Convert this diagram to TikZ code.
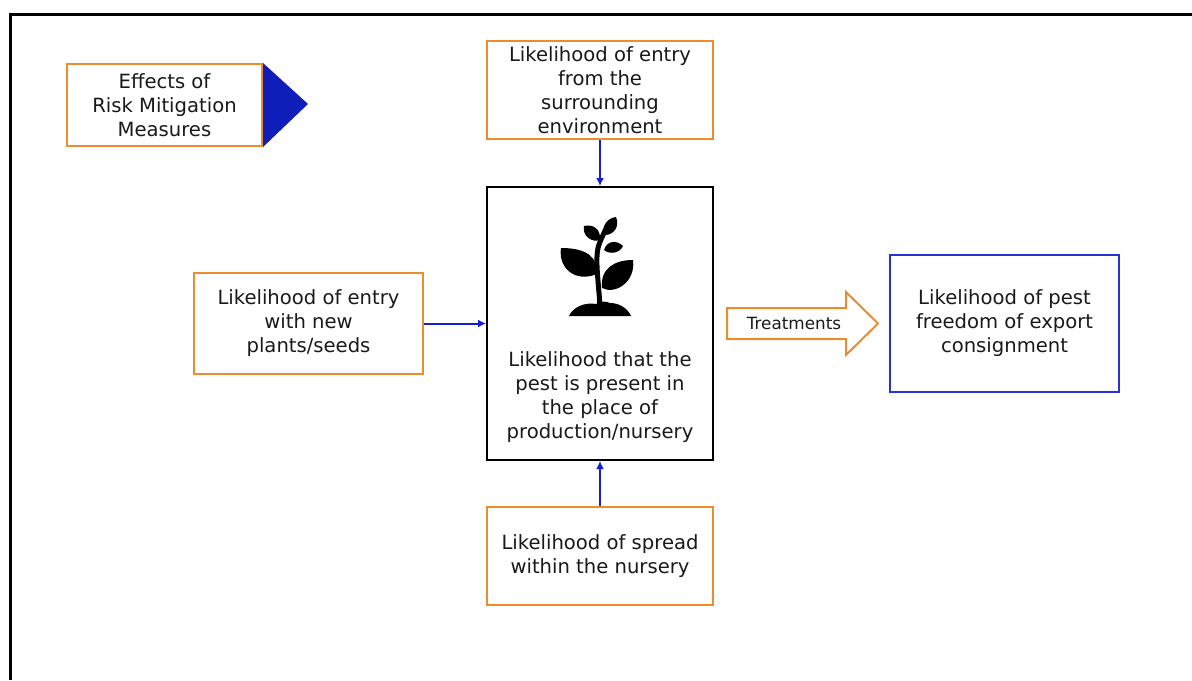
\documentclass[tikz,border=0pt]{standalone}
\usepackage{fontspec}
\setmainfont{DejaVu Sans}
\usetikzlibrary{arrows,arrows.meta,positioning}
\definecolor{boxorange}{RGB}{237,140,45}
\definecolor{boxblue}{RGB}{40,50,210}
\definecolor{markerblue}{RGB}{15,30,185}
\definecolor{linkblue}{RGB}{20,30,210}

\begin{document}
\begin{tikzpicture}
[x=0.5pt,y=-0.5pt,
every node/.style={font=\fontsize{9.8}{12}\selectfont,align=center,text=black!90},
%
orangebox/.style={shape=rectangle,draw=boxorange,line width=1pt,inner sep=0pt},
bluebox/.style={shape=rectangle,draw=boxblue,line width=1pt,inner sep=0pt},
blackbox/.style={shape=rectangle,draw=black,line width=1pt,inner sep=0pt},
leaf/.style={fill=black},
%
link/.style={->,>={Latex[length=4pt,width=4pt]},draw=linkblue,line width=1pt},
treat/.style={draw=boxorange,line width=1pt,line join=miter}]

\useasboundingbox (0,0) rectangle (1192,680);
\draw[line width=1.5pt] (10,680) -- (10,14) -- (1192,14);

\node (legend) [orangebox,minimum width=97.5pt,minimum height=41pt] at (164.5,105) {Effects of\\Risk Mitigation\\Measures};
\fill[markerblue] (legend.north east) -- ++(45,41) -- (legend.south east) -- cycle;

\node (environment) [orangebox,minimum width=113pt,minimum height=49pt] at (600,90) {Likelihood of entry\\from the\\surrounding\\environment};
\node (nursery) [blackbox,minimum width=113pt,minimum height=136.5pt] at (600,323.5) {};
\node (nurserytext) at (600,397) {Likelihood that the\\pest is present in\\the place of\\production/nursery};
\node (plants) [orangebox,minimum width=114.5pt,minimum height=50.5pt] at (308.5,323.5) {Likelihood of entry\\with new\\plants/seeds};
\node (spread) [orangebox,minimum width=113pt,minimum height=49pt] at (600,556) {Likelihood of spread\\within the nursery};
\node (export) [bluebox,minimum width=114.5pt,minimum height=68.5pt] at (1004.5,323.5) {Likelihood of pest\\freedom of export\\consignment};

\draw[link] (environment) -- (nursery);
\draw[link] (plants) -- (nursery);
\draw[link] (spread) -- (nursery);

% treatments block arrow
\draw[treat] (727,308) -- (846,308) -- (846,292) -- (878,323.5) -- (846,355) -- (846,339) -- (727,339) -- cycle;
\node (treatments) [font=\fontsize{8.4}{10}\selectfont] at (794,323.5) {Treatments};

% plant icon
\fill (569,316) .. controls (573,307) and (585,302) .. (596,304) .. controls (600,301) and (606,301) .. (610,303) .. controls (620,303) and (628,309) .. (631,316) -- cycle;
\draw[line width=2.5pt] (600,308) .. controls (599,285) and (595,262) .. (598,248) .. controls (600,240) and (603,236) .. (607,226);
\fill[leaf] (597,274) .. controls (598,258) and (588,248) .. (561,248) .. controls (558,268) and (575,283) .. (597,274) -- cycle;
\fill[leaf] (602,288) .. controls (600,268) and (615,260) .. (633,260) .. controls (636,282) and (615,295) .. (602,288) -- cycle;
\fill[leaf] (600,240) .. controls (601,228) and (592,224) .. (584,226) .. controls (582,236) and (592,243) .. (600,240) -- cycle;
\fill[leaf] (605,235) .. controls (601,225) and (608,218) .. (616,217) .. controls (620,226) and (614,235) .. (605,235) -- cycle;
\fill[leaf] (604,250) .. controls (607,240) and (617,240) .. (623,246) .. controls (620,253) and (610,255) .. (604,250) -- cycle;

\end{tikzpicture}
\end{document}
